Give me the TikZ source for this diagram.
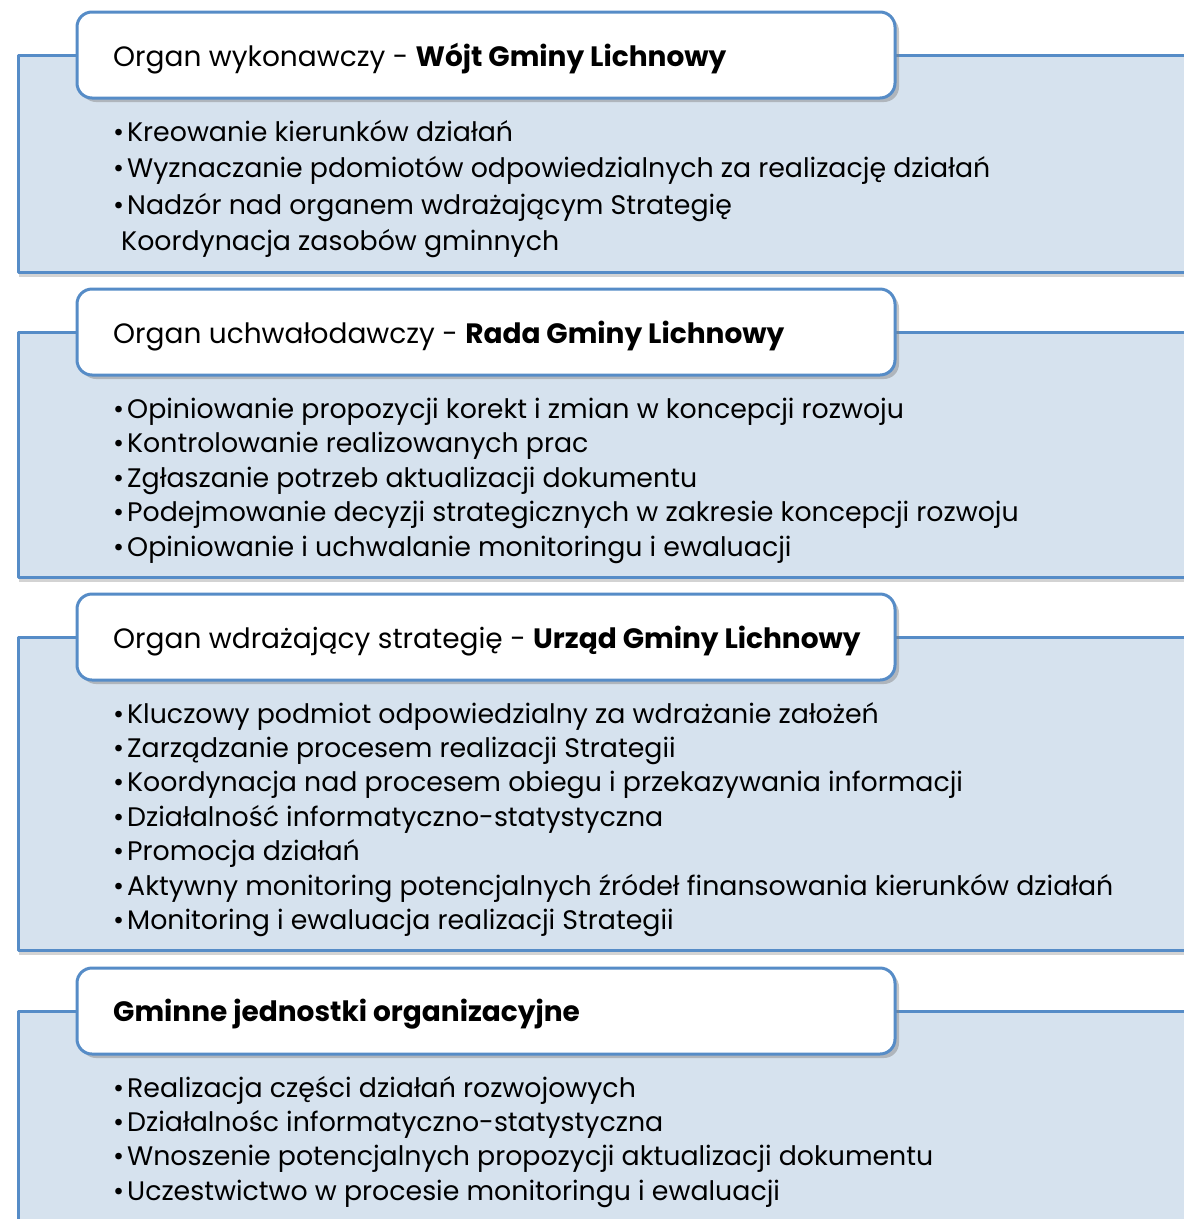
\documentclass[tikz,border=0pt]{standalone}
\usepackage{fontspec}
\setmainfont{Poppins}
\usetikzlibrary{shadows}

\definecolor{panelfill}{RGB}{214,226,238}
\definecolor{panelline}{RGB}{86,140,199}

\newcommand\bul{\makebox[14pt][l]{•}}

\begin{document}
\begin{tikzpicture}[x=1pt, y=-1pt, line join=round]

%---- STYLES ----
\tikzset{
    panel/.style={fill=panelfill, draw=panelline, line width=3pt,
        drop shadow={opacity=0.35, shadow xshift=1pt, shadow yshift=-5pt}},
    headbox/.style={fill=white, draw=panelline, line width=3pt, rounded corners=15pt,
        minimum width=818pt, minimum height=86pt, inner sep=0pt,
        drop shadow={opacity=0.45, shadow xshift=4pt, shadow yshift=-4pt}},
    headtext/.style={anchor=base west, inner sep=0pt, font=\fontsize{28}{32}\selectfont},
    itemtext/.style={anchor=base west, inner sep=0pt, font=\fontsize{26.8}{30}\selectfont},
}

% PAGE
\useasboundingbox (0,0) rectangle (1184,1219);
\clip (0,0) rectangle (1184,1219);

%---- PANEL 1 ----
\draw[panel] (18,55) rectangle (1210,272);
\node[headbox] (h1) at (486,55) {};
\node[headtext] (t1) at (113,66) {Organ wykonawczy - \textbf{Wójt Gminy Lichnowy}};
\foreach \txt [count=\i] in {
    Kreowanie kierunków działań,
    Wyznaczanie pdomiotów odpowiedzialnych za realizację działań,
    Nadzór nad organem wdrażającym Strategię}
    \node[itemtext] (w\i) at (113,{141+36.5*(\i-1)}) {\bul\txt};
\node[itemtext] (w4) at (121,250) {Koordynacja zasobów gminnych};

%---- PANEL 2 ----
\draw[panel] (18,332) rectangle (1210,577);
\node[headbox] (h2) at (486,332) {};
\node[headtext] (t2) at (113,343) {Organ uchwałodawczy - \textbf{Rada Gminy Lichnowy}};
\foreach \txt [count=\i] in {
    Opiniowanie propozycji korekt i zmian w koncepcji rozwoju,
    Kontrolowanie realizowanych prac,
    Zgłaszanie potrzeb aktualizacji dokumentu,
    Podejmowanie decyzji strategicznych w zakresie koncepcji rozwoju,
    Opiniowanie i uchwalanie monitoringu i ewaluacji}
    \node[itemtext] (r\i) at (113,{418+34.5*(\i-1)}) {\bul\txt};

%---- PANEL 3 ----
\draw[panel] (18,637) rectangle (1210,950);
\node[headbox] (h3) at (486,637) {};
\node[headtext] (t3) at (113,648) {Organ wdrażający strategię - \textbf{Urząd Gminy Lichnowy}};
\foreach \txt [count=\i] in {
    Kluczowy podmiot odpowiedzialny za wdrażanie założeń,
    Zarządzanie procesem realizacji Strategii,
    Koordynacja nad procesem obiegu i przekazywania informacji,
    Działalność informatyczno-statystyczna,
    Promocja działań,
    Aktywny monitoring potencjalnych źródeł finansowania kierunków działań,
    Monitoring i ewaluacja realizacji Strategii}
    \node[itemtext] (u\i) at (113,{723+34.4*(\i-1)}) {\bul\txt};

%---- PANEL 4 ----
\draw[panel] (18,1011) rectangle (1210,1240);
\node[headbox] (h4) at (486,1011) {};
\node[headtext] (t4) at (113,1021) {\textbf{Gminne jednostki organizacyjne}};
\foreach \txt [count=\i] in {
    Realizacja części działań rozwojowych,
    Działalnośc informatyczno-statystyczna,
    Wnoszenie potencjalnych propozycji aktualizacji dokumentu,
    Uczestwictwo w procesie monitoringu i ewaluacji}
    \node[itemtext] (g\i) at (113,{1097+34.4*(\i-1)}) {\bul\txt};

\end{tikzpicture}
\end{document}
